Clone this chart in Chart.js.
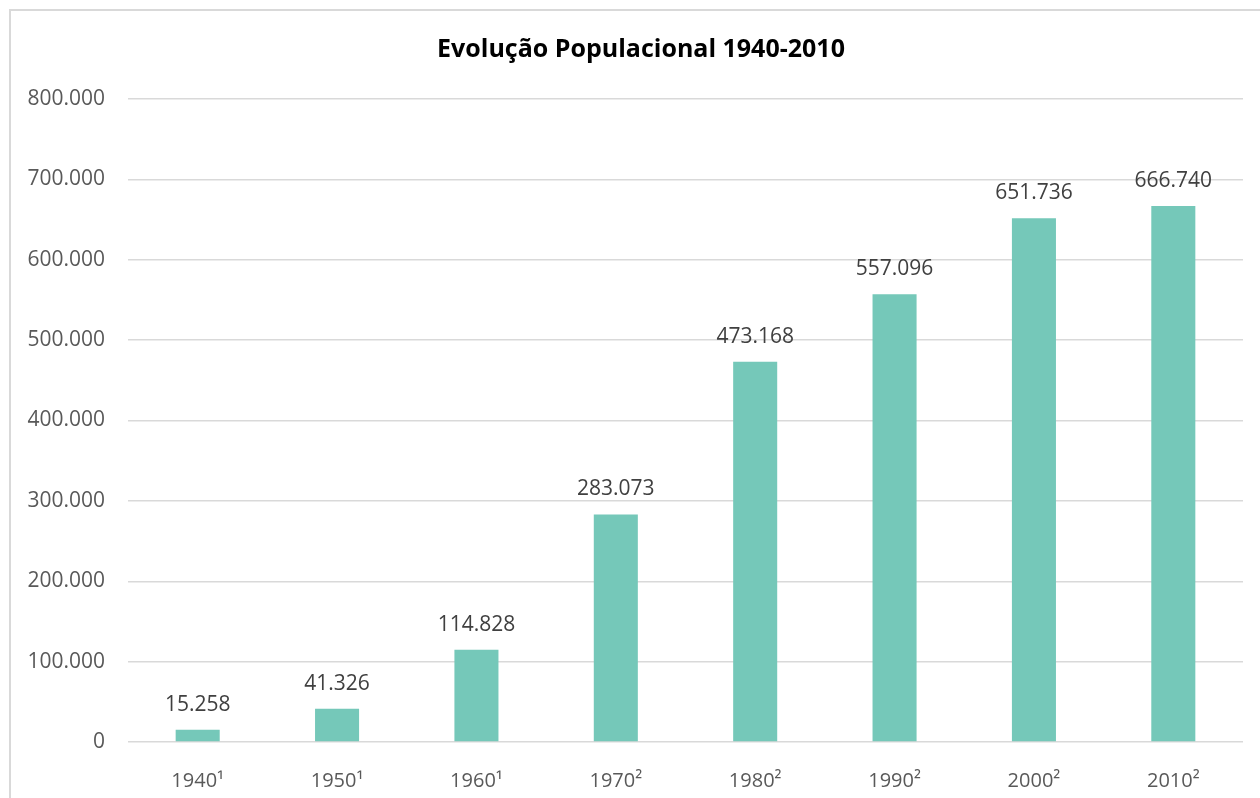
<!DOCTYPE html>
<html>
<head>
<meta charset="utf-8">
<script src="https://cdn.jsdelivr.net/npm/chart.js@4.4.1/dist/chart.umd.min.js"></script>
<style>
    html, body { margin: 0; padding: 0; background: #fff; overflow: hidden; }
    #frame {
        position: absolute; left: 9px; top: 9px;
        width: 1300px; height: 850px;
        border: 2px solid #d9d9d9; box-sizing: border-box;
    }
    #wrap { position: absolute; left: 0; top: 0; width: 1260px; height: 798px; }
</style>
</head>
<body>
<div id="frame"></div>
<div id="wrap"><canvas id="chart" width="1260" height="798"></canvas></div>
<script>
// Censos por ano (¹ e ² indicam a fonte)
const years = ['1940¹', '1950¹', '1960¹', '1970²', '1980²', '1990²', '2000²', '2010²'];
const population = [15258, 41326, 114828, 283073, 473168, 557096, 651736, 666740];
const yTicks = [0, 100000, 200000, 300000, 400000, 500000, 600000, 700000, 800000];
const titleText = 'Evolução Populacional 1940-2010';

const fontFamily = "'Open Sans', Lato, sans-serif";

// formato brasileiro: 15.258
function fmt(n) {
    return String(n).replace(/\B(?=(\d{3})+(?!\d))/g, '.');
}

// desenha o valor acima de cada barra
const barLabels = {
    id: 'barLabels',
    afterDatasetsDraw(chart) {
        const ctx = chart.ctx;
        const meta = chart.getDatasetMeta(0);
        ctx.save();
        ctx.font = '21px ' + fontFamily;
        ctx.fillStyle = '#404040';
        ctx.textAlign = 'center';
        ctx.textBaseline = 'middle';
        meta.data.forEach((bar, i) => {
            ctx.fillText(fmt(population[i]), bar.x, bar.y - 25);
        });
        ctx.restore();
    }
};

// título centrado na moldura do gráfico (não no canvas)
const frameTitle = {
    id: 'frameTitle',
    afterDraw(chart) {
        const ctx = chart.ctx;
        ctx.save();
        ctx.font = 'bold 25px ' + fontFamily;
        ctx.fillStyle = '#000';
        ctx.textAlign = 'center';
        ctx.textBaseline = 'middle';
        ctx.fillText(titleText, 641, 50);
        ctx.restore();
    }
};

const ctx = document.getElementById('chart').getContext('2d');
new Chart(ctx, {
    type: 'bar',
    data: {
        labels: years,
        datasets: [{
            data: population,
            backgroundColor: '#75c8b9',
            borderWidth: 0,
            categoryPercentage: 1,
            barPercentage: 0.316
        }]
    },
    options: {
        responsive: false,
        animation: false,
        layout: { padding: { left: 0, right: 17, top: 99, bottom: 0 } },
        plugins: {
            legend: { display: false },
            tooltip: { enabled: false },
            title: { display: false }
        },
        scales: {
            x: {
                grid: { display: false },
                border: { display: false },
                ticks: {
                    color: '#595959',
                    font: { family: fontFamily, size: 20 },
                    padding: 19,
                    maxRotation: 0
                },
                afterFit(scale) { scale.height = 56; }
            },
            y: {
                min: 0,
                max: 800000,
                afterBuildTicks(scale) {
                    scale.ticks = yTicks.map(v => ({ value: v }));
                },
                grid: { color: '#d9d9d9', lineWidth: 1.5, drawTicks: false },
                border: { display: false },
                ticks: {
                    color: '#595959',
                    font: { family: fontFamily, size: 21 },
                    padding: 23,
                    callback: v => fmt(v)
                },
                afterFit(scale) { scale.width = 128; }
            }
        }
    },
    plugins: [barLabels, frameTitle]
});
</script>
</body>
</html>
